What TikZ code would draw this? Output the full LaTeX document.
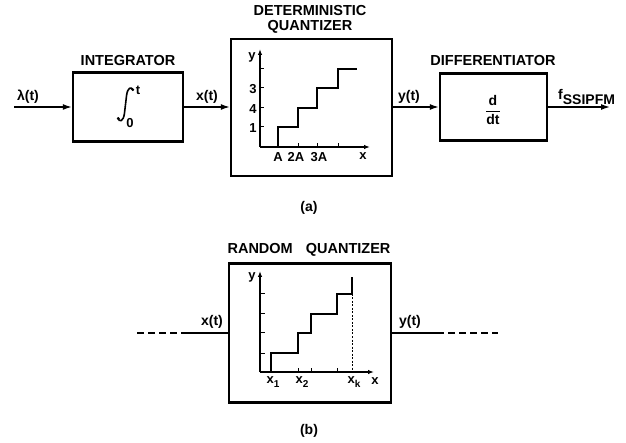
\documentclass[tikz,border=0pt]{standalone}
\usepackage{fontspec}
\setmainfont{Liberation Sans}
\usetikzlibrary{arrows.meta}
\begin{document}
\begin{tikzpicture}[x=1pt,y=-1pt,
  blk/.style={draw,line width=2.4pt,inner sep=0pt},
  sig/.style={line width=1.4pt},
  arr/.style={sig,-{Latex[length=9pt,width=6pt]}},
  axis/.style={line width=1.4pt},
  axarr/.style={axis,-{Latex[length=6pt,width=4.5pt]}},
  tick/.style={line width=1pt},
  ttl/.style={font=\bfseries\fontsize{14.5}{17}\selectfont},
  lbl/.style={font=\bfseries\fontsize{14}{16}\selectfont},
  sml/.style={font=\bfseries\fontsize{13}{15}\selectfont,inner sep=0pt}]
\useasboundingbox (0,0) rectangle (626,443);
% ---------- (a) ----------
\node[blk,minimum width=110pt,minimum height=69pt] (int) at (128,107) {};
\node[blk,minimum width=161pt,minimum height=137pt] (det) at (311.5,107.5) {};
\node[blk,minimum width=107pt,minimum height=67pt] (dif) at (493.5,107) {};
\coordinate (in) at (14,107);
\coordinate (out) at (610,107);
\draw[arr] (in) -- (int.west);
\draw[arr] (int.east) -- (det.west |- int.east);
\draw[arr] (det.east |- dif.west) -- (dif.west);
\draw[arr] (dif.east) -- (out);
\node[ttl] (tint) at (128,61) {INTEGRATOR};
\node[ttl] (tdet1) at (310,11) {DETERMINISTIC};
\node[ttl] (tdet2) at (310,27) {QUANTIZER};
\node[ttl] (tdif) at (493,61) {DIFFERENTIATOR};
\node[lbl] (lam) at (28,97) {λ(t)};
\node[lbl] (xt) at (207,97) {x(t)};
\node[lbl] (yt) at (409,97) {y(t)};
\node[lbl,anchor=west,inner sep=0pt] (fo) at (558,97) {f\raisebox{-0.55ex}{SSIPFM}};
% integral sign drawn as a curve
\draw[line width=1.6pt,line cap=round] (118,118) .. controls (119,122.5) and (123.5,122) .. (124.5,113) -- (126.5,96) .. controls (127.5,87) and (131.5,86.5) .. (133,90);
\fill (118.3,118.6) circle (1.6pt);
\fill (132.7,89.6) circle (1.6pt);
\node[sml] (intt) at (138,90) {t};
\node[sml] (int0) at (130,123) {0};
\node[font=\bfseries\fontsize{14}{16}\selectfont] (ddt) at (493,110) {$\displaystyle\frac{\mathbf{d}}{\mathbf{dt}}$};
% deterministic graph
\draw[axarr] (260,147) -- (260,49);
\draw[axarr] (260,147) -- (370,147);
\draw[axis] (278,147) -- (278,127) -- (298,127) -- (298,108) -- (317,108) -- (317,88) -- (338,88) -- (338,69) -- (357,69);
\foreach \yy in {127,108,88,69} \draw[tick] (260,\yy) -- (264,\yy);
\foreach \xx in {298,317,338} \draw[tick] (\xx,147) -- (\xx,143);
\node[sml] (dy) at (252,57) {y};
\node[sml] (d1) at (253,128) {1};
\node[sml] (d4) at (253,109) {4};
\node[sml] (d3) at (253,89) {3};
\node[sml] (dA) at (278,157) {A};
\node[sml] (d2A) at (296,157) {2A};
\node[sml] (d3A) at (319,157) {3A};
\node[sml] (dx) at (363,156) {x};
\node[lbl] (la) at (309,208) {(a)};
% ---------- (b) ----------
\node[blk,minimum width=162pt,minimum height=139pt] (rq) at (310,333) {};
\node[ttl] (trq) at (309,250) {RANDOM\hspace{0.9em}QUANTIZER};
\coordinate (lin) at (137,333);
\coordinate (lmid) at (182,333);
\coordinate (rmid) at (437,333);
\coordinate (rout) at (498,333);
\draw[sig,dashed,dash pattern=on 7pt off 4pt] (lin) -- (lmid);
\draw[sig] (lmid) -- (rq.west);
\draw[sig] (rq.east) -- (rmid);
\draw[sig,dashed,dash pattern=on 7pt off 4pt] (rmid) -- (rout);
\node[lbl] (bxt) at (212,322) {x(t)};
\node[lbl] (byt) at (410,322) {y(t)};
\draw[axarr] (260,372) -- (260,271);
\draw[axarr] (260,372) -- (374,372);
\draw[axis] (271,372) -- (271,353) -- (298,353) -- (298,333) -- (311,333) -- (311,314) -- (337,314) -- (337,294) -- (352,294) -- (352,277);
\draw[tick,dashed,dash pattern=on 2pt off 1.5pt] (352,294) -- (352,372);
\foreach \yy in {353,333,314,294} \draw[tick] (260,\yy) -- (265,\yy);
\foreach \xx in {298,311,337} \draw[tick] (\xx,372) -- (\xx,368);
\node[sml] (ry) at (252,277) {y};
\node[sml] (rx) at (375,381) {x};
\node[sml] (rx1) at (273,382) {x\raisebox{-0.5ex}{\fontsize{10}{11}\selectfont 1}};
\node[sml] (rx2) at (302,382) {x\raisebox{-0.5ex}{\fontsize{10}{11}\selectfont 2}};
\node[sml] (rxk) at (354,382) {x\raisebox{-0.5ex}{\fontsize{10}{11}\selectfont k}};
\node[lbl] (lb) at (309,431) {(b)};
\end{tikzpicture}
\end{document}
